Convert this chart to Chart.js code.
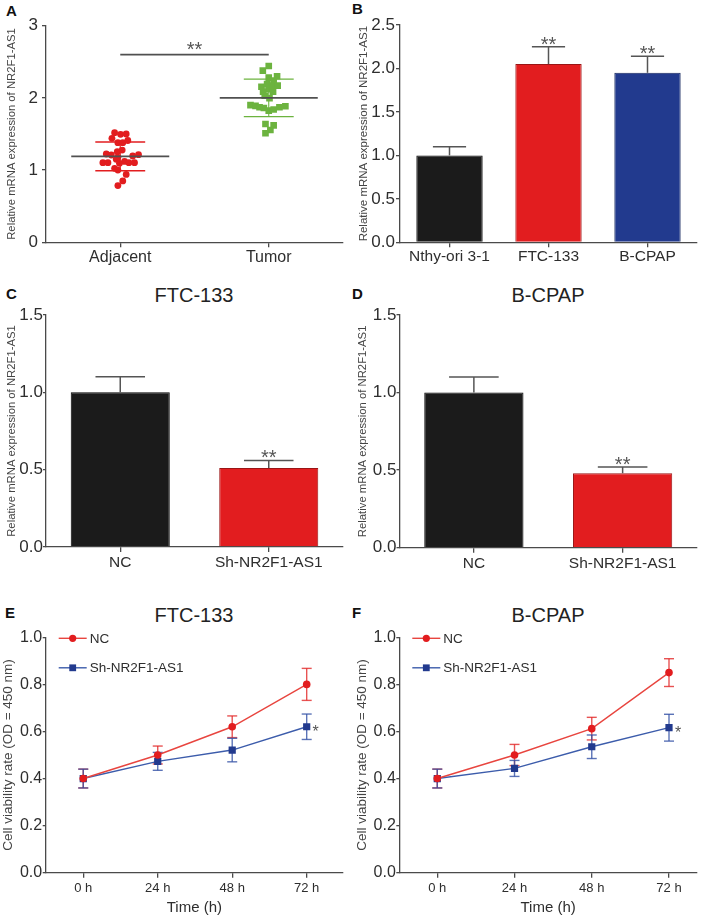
<!DOCTYPE html>
<html>
<head>
<meta charset="utf-8">
<script src="https://cdn.jsdelivr.net/npm/chart.js@4.4.1/dist/chart.umd.min.js"></script>
<style>
html,body{margin:0;padding:0;background:#fff;}
body{width:709px;height:917px;position:relative;overflow:hidden;font-family:"Liberation Sans",Arial,Helvetica,sans-serif;}
.lbl{position:absolute;font-weight:bold;font-size:15px;line-height:15px;color:#111;}
.ttl{position:absolute;font-size:20px;line-height:20px;color:#222;text-align:center;width:200px;white-space:nowrap;}
</style>
</head>
<body>
<div class="lbl" style="left:6px;top:3px;">A</div>
<div class="lbl" style="left:352px;top:1px;">B</div>
<div class="lbl" style="left:6px;top:286px;">C</div>
<div class="lbl" style="left:352px;top:286px;">D</div>
<div class="lbl" style="left:5px;top:605px;">E</div>
<div class="lbl" style="left:352px;top:605px;">F</div>
<div class="ttl" style="left:94px;top:285px;">FTC-133</div>
<div class="ttl" style="left:448px;top:285px;">B-CPAP</div>
<div class="ttl" style="left:94px;top:605px;">FTC-133</div>
<div class="ttl" style="left:448px;top:605px;">B-CPAP</div>
<script>
// ---------------- DATA ----------------
// Panel A (scatter, relative NR2F1-AS1 expression)
const scatterCategories = ['Adjacent', 'Tumor'];
const adjacentValues = [1.518,1.495,1.50,1.44,1.38,1.38,1.41,1.223,1.209,1.255,1.278,1.177,1.195,1.213,1.103,1.103,1.15,1.094,1.12,1.103,1.103,1.025,1.0,0.94,0.85,0.785];
const adjacentJitter = [-0.038,0.002,0.040,-0.056,-0.016,0.017,0.051,-0.094,-0.060,-0.020,0.013,-0.016,0.084,0.123,-0.117,-0.083,-0.027,-0.005,0.029,0.058,0.096,-0.038,-0.016,0.040,0.017,-0.016];
const tumorValues = [2.442,2.377,2.28,2.30,2.24,2.155,2.19,2.17,2.17,2.12,2.086,2.086,2.03,1.995,1.90,1.89,1.87,1.86,1.823,1.84,1.87,1.885,1.638,1.62,1.555,1.51];
const tumorJitter = [0,-0.040,0,0.056,0.033,-0.049,-0.011,0.022,0.060,0,-0.038,0.029,-0.027,0.005,-0.123,-0.089,-0.062,-0.033,0,0.033,0.072,0.112,-0.022,0.033,0.011,-0.022];
const scatterMeans = [1.19, 2.0];
const scatterSDs = [0.2, 0.26];
const scatterSigLevel = 2.6;
const panelATicks = [0, 1, 2, 3];

// Panel B
const cellLines = ['Nthy-ori 3-1', 'FTC-133', 'B-CPAP'];
const cellLineValues = [1.0, 2.05, 1.95];
const cellLineErrors = [0.10, 0.20, 0.19];
const cellLineSig = ['', '**', '**'];
const panelBTicks = [0, 0.5, 1.0, 1.5, 2.0, 2.5];

// Panels C & D
const knockdownGroups = ['NC', 'Sh-NR2F1-AS1'];
const ftcKnockValues = [1.0, 0.51];
const ftcKnockErrors = [0.10, 0.05];
const bcpapKnockValues = [1.0, 0.48];
const bcpapKnockErrors = [0.10, 0.04];
const knockSig = ['', '**'];
const panelCDTicks = [0, 0.5, 1.0, 1.5];

// Panels E & F (CCK-8 viability)
const timePoints = [0, 24, 48, 72];
const timeLabels = ['0 h', '24 h', '48 h', '72 h'];
const seriesNames = ['NC', 'Sh-NR2F1-AS1'];
const ftcNC = [0.40, 0.50, 0.62, 0.80];
const ftcNCErr = [0.04, 0.038, 0.046, 0.068];
const ftcSh = [0.40, 0.473, 0.521, 0.62];
const ftcShErr = [0.04, 0.038, 0.05, 0.054];
const bcpapNC = [0.40, 0.50, 0.612, 0.85];
const bcpapNCErr = [0.04, 0.045, 0.048, 0.059];
const bcpapSh = [0.40, 0.443, 0.535, 0.616];
const bcpapShErr = [0.04, 0.034, 0.05, 0.057];
const viabilityTicks = [0, 0.2, 0.4, 0.6, 0.8, 1.0];

// ---------------- STYLE / LAYOUT ----------------
const FONT = '"Liberation Sans", Arial, Helvetica, sans-serif';
const AXIS = '#4a4a4a';
const TXT = '#2e2e2e';
const RED = '#e21d1f';
const GREEN = '#6cb33f';
const BLACK = '#1b1b1b';
const BLUE = '#223a8e';
const LRED = '#e8453f';
const LBLUE = '#3c5cab';

const P = {
  A: {box: [0, 0, 354, 285], area: [46, 25.7, 343, 242.3]},
  B: {box: [354, 0, 355, 285], area: [400, 25, 697, 242.3]},
  C: {box: [0, 285, 354, 315], area: [46, 315, 343, 547]},
  D: {box: [354, 285, 355, 315], area: [399.5, 315, 697, 547.7]},
  E: {box: [0, 600, 354, 317], area: [45.7, 637.3, 343, 872.7]},
  F: {box: [354, 600, 355, 317], area: [399.3, 637.3, 697, 872.7]}
};

function makeCanvas(box) {
  const c = document.createElement('canvas');
  c.width = box[2]; c.height = box[3];
  c.style.cssText = 'position:absolute;left:' + box[0] + 'px;top:' + box[1] + 'px;width:' + box[2] + 'px;height:' + box[3] + 'px;';
  document.body.appendChild(c);
  return c;
}

function baseOptions(p) {
  const [bl, bt, bw, bh] = p.box;
  const [L, T, R, B] = p.area;
  return {
    responsive: false, animation: false, events: [],
    layout: {padding: {left: 0, top: T - bt, right: bl + bw - R, bottom: 0}},
    plugins: {legend: {display: false}, tooltip: {enabled: false}, title: {display: false}}
  };
}

function yAxis(p, o) {
  const [bl] = p.box; const [L] = p.area;
  return {
    type: 'linear', min: o.min, max: o.max,
    afterFit: s => { s.width = L - bl; },
    afterBuildTicks: s => { s.ticks = o.ticks.map(v => ({value: v})); },
    ticks: {font: {family: FONT, size: o.tickSize}, color: TXT, padding: o.tickPad,
            callback: v => o.decimals ? Number(v).toFixed(o.decimals) : String(v)},
    grid: {display: true, drawOnChartArea: false, drawTicks: true, tickLength: o.tickLen, color: AXIS, lineWidth: 1.3},
    border: {display: true, color: AXIS, width: 1.3},
    title: {display: true, text: o.title, font: {family: FONT, size: o.titleSize}, color: '#444',
            padding: {top: o.titlePad, bottom: 0}}
  };
}

function xCategory(p, o) {
  const [bl, bt, bw, bh] = p.box; const B = p.area[3];
  return {
    type: 'category', offset: true,
    afterFit: s => { s.height = bt + bh - B; },
    ticks: {font: {family: FONT, size: o.tickSize}, color: TXT, padding: o.tickPad, autoSkip: false, maxRotation: 0},
    grid: {display: true, drawOnChartArea: false, drawTicks: true, tickLength: 5, offset: false, color: AXIS, lineWidth: 1.3},
    border: {display: true, color: AXIS, width: 1.3}
  };
}

function strokeLine(ctx, x0, y0, x1, y1, color, w) {
  ctx.save(); ctx.strokeStyle = color; ctx.lineWidth = w;
  ctx.beginPath(); ctx.moveTo(x0, y0); ctx.lineTo(x1, y1); ctx.stroke(); ctx.restore();
}

function drawCenteredText(ctx, text, cx, cy, font, color, align) {
  ctx.save(); ctx.font = font; ctx.fillStyle = color; ctx.textAlign = align || 'center'; ctx.textBaseline = 'alphabetic';
  const m = ctx.measureText(text);
  const base = cy + (m.actualBoundingBoxAscent - m.actualBoundingBoxDescent) / 2;
  ctx.fillText(text, cx, base); ctx.restore();
}

// bar error bars (upward only) + significance stars
function barExtras(values, errors, sig) {
  return {
    id: 'barExtras',
    afterDatasetsDraw(chart) {
      const ctx = chart.ctx, ys = chart.scales.y;
      const meta = chart.getDatasetMeta(0);
      meta.data.forEach((el, i) => {
        const x = el.x, half = el.width / 4;
        const yTop = ys.getPixelForValue(values[i] + errors[i]);
        const yBar = ys.getPixelForValue(values[i]);
        strokeLine(ctx, x, yBar, x, yTop, '#555', 1.5);
        strokeLine(ctx, x - half, yTop, x + half, yTop, '#555', 1.5);
        if (sig[i]) drawCenteredText(ctx, sig[i], x, yTop - 6, '20px ' + FONT, '#555');
      });
    }
  };
}

// ---------------- PANEL A ----------------
(function () {
  const p = P.A;
  const opts = baseOptions(p);
  const [bl, bt, bw, bh] = p.box;
  opts.scales = {
    x: {
      type: 'linear', min: 0.5, max: 2.5,
      afterFit: s => { s.height = bt + bh - p.area[3]; },
      afterBuildTicks: s => { s.ticks = scatterCategories.map((c, i) => ({value: i + 1})); },
      ticks: {font: {family: FONT, size: 16}, color: TXT, padding: 0.5, autoSkip: false, maxRotation: 0,
              callback: v => scatterCategories[Math.round(v) - 1]},
      grid: {display: true, drawOnChartArea: false, drawTicks: true, tickLength: 5, color: AXIS, lineWidth: 1.3},
      border: {display: true, color: AXIS, width: 1.3}
    },
    y: yAxis(p, {min: 0, max: 3, ticks: panelATicks, tickSize: 17, tickPad: 4, tickLen: 4, decimals: 0,
                 title: 'Relative mRNA expression of NR2F1-AS1', titleSize: 11.3, titlePad: 5})
  };
  new Chart(makeCanvas(p.box), {
    type: 'scatter',
    data: {datasets: [
      {label: scatterCategories[0], data: adjacentValues.map((v, i) => ({x: 1 + adjacentJitter[i], y: v})),
       pointStyle: 'circle', pointRadius: 3.4, backgroundColor: RED, borderWidth: 0},
      {label: scatterCategories[1], data: tumorValues.map((v, i) => ({x: 2 + tumorJitter[i], y: v})),
       pointStyle: 'rect', pointRadius: 4.7, backgroundColor: GREEN, borderWidth: 0}
    ]},
    options: opts,
    plugins: [{
      id: 'meanSd',
      afterDatasetsDraw(chart) {
        const ctx = chart.ctx, xs = chart.scales.x, ys = chart.scales.y;
        const cols = [RED, GREEN];
        scatterMeans.forEach((m, i) => {
          const c = i + 1, sd = scatterSDs[i];
          const xc = xs.getPixelForValue(c);
          strokeLine(ctx, xc, ys.getPixelForValue(m + sd), xc, ys.getPixelForValue(m - sd), cols[i], 1.1);
          [m + sd, m - sd].forEach(v => strokeLine(ctx, xs.getPixelForValue(c - 0.168), ys.getPixelForValue(v),
                                                  xs.getPixelForValue(c + 0.168), ys.getPixelForValue(v), cols[i], 1.4));
          strokeLine(ctx, xs.getPixelForValue(c - 0.33), ys.getPixelForValue(m), xs.getPixelForValue(c + 0.33), ys.getPixelForValue(m), '#505050', 1.6);
        });
        const ySig = ys.getPixelForValue(scatterSigLevel);
        strokeLine(ctx, xs.getPixelForValue(1), ySig, xs.getPixelForValue(2), ySig, '#505050', 1.6);
        drawCenteredText(ctx, '**', xs.getPixelForValue(1.5), ySig - 9, '20px ' + FONT, '#555');
      }
    }]
  });
})();

// ---------------- PANEL B ----------------
(function () {
  const p = P.B;
  const opts = baseOptions(p);
  opts.scales = {
    x: xCategory(p, {tickSize: 15.5, tickPad: 0.5}),
    y: yAxis(p, {min: 0, max: 2.5, ticks: panelBTicks, tickSize: 17, tickPad: 1, tickLen: 4, decimals: 1,
                 title: 'Relative mRNA expression of NR2F1-AS1', titleSize: 11.5, titlePad: 3.2})
  };
  new Chart(makeCanvas(p.box), {
    type: 'bar',
    data: {labels: cellLines, datasets: [{data: cellLineValues, backgroundColor: [BLACK, RED, BLUE],
      borderColor: ['#000', '#9a1515', '#16275e'], borderWidth: 1, barPercentage: 1, categoryPercentage: 0.67}]},
    options: opts,
    plugins: [barExtras(cellLineValues, cellLineErrors, cellLineSig)]
  });
})();

// ---------------- PANELS C & D ----------------
function knockPanel(p, values, errors, yPad) {
  const opts = baseOptions(p);
  opts.scales = {
    x: xCategory(p, {tickSize: 15.5, tickPad: 1.7}),
    y: yAxis(p, {min: 0, max: 1.5, ticks: panelCDTicks, tickSize: 17, tickPad: 0, tickLen: 3, decimals: 1,
                 title: 'Relative mRNA expression of NR2F1-AS1', titleSize: 11.3, titlePad: yPad})
  };
  new Chart(makeCanvas(p.box), {
    type: 'bar',
    data: {labels: knockdownGroups, datasets: [{data: values, backgroundColor: [BLACK, RED],
      borderColor: ['#000', '#9a1515'], borderWidth: 1, barPercentage: 1, categoryPercentage: 0.667}]},
    options: opts,
    plugins: [barExtras(values, errors, knockSig)]
  });
}
knockPanel(P.C, ftcKnockValues, ftcKnockErrors, 4.9);
knockPanel(P.D, bcpapKnockValues, bcpapKnockErrors, 1.9);

// ---------------- PANELS E & F ----------------
function viabilityPanel(p, nc, ncErr, sh, shErr, xMin, xMax, yPad) {
  const opts = baseOptions(p);
  const [bl, bt, bw, bh] = p.box;
  opts.scales = {
    x: {
      type: 'linear', min: xMin, max: xMax,
      afterFit: s => { s.height = bt + bh - p.area[3]; },
      afterBuildTicks: s => { s.ticks = timePoints.map(v => ({value: v})); },
      ticks: {font: {family: FONT, size: 13}, color: TXT, padding: 2.8, autoSkip: false, maxRotation: 0,
              callback: v => timeLabels[timePoints.indexOf(v)]},
      grid: {display: true, drawOnChartArea: false, drawTicks: true, tickLength: 5, color: AXIS, lineWidth: 1.3},
      border: {display: true, color: AXIS, width: 1.3},
      title: {display: true, text: 'Time (h)', font: {family: FONT, size: 15}, color: TXT, padding: {top: 0, bottom: 0.5}}
    },
    y: yAxis(p, {min: 0, max: 1.0, ticks: viabilityTicks, tickSize: 16, tickPad: 0.5, tickLen: 3, decimals: 1,
                 title: 'Cell viability rate (OD = 450 nm)', titleSize: 13.5, titlePad: yPad})
  };
  const errs = [ncErr, shErr];
  const errCols = ['rgba(226,40,40,0.8)', 'rgba(50,80,165,0.8)'];
  new Chart(makeCanvas(p.box), {
    type: 'line',
    data: {datasets: [
      {label: seriesNames[0], data: timePoints.map((t, i) => ({x: t, y: nc[i]})), borderColor: LRED, borderWidth: 1.4,
       pointStyle: 'circle', pointRadius: 3.8, pointBackgroundColor: RED, pointBorderWidth: 0, tension: 0, fill: false},
      {label: seriesNames[1], data: timePoints.map((t, i) => ({x: t, y: sh[i]})), borderColor: LBLUE, borderWidth: 1.4,
       pointStyle: 'rect', pointRadius: 5.1, pointBackgroundColor: BLUE, pointBorderWidth: 0, tension: 0, fill: false}
    ]},
    options: opts,
    plugins: [{
      id: 'errAndLegend',
      beforeDatasetsDraw(chart) {
        const ctx = chart.ctx, ys = chart.scales.y;
        [0, 1].forEach(d => {
          const meta = chart.getDatasetMeta(d);
          const vals = d === 0 ? nc : sh;
          meta.data.forEach((el, i) => {
            const x = el.x;
            const y0 = ys.getPixelForValue(vals[i] + errs[d][i]);
            const y1 = ys.getPixelForValue(vals[i] - errs[d][i]);
            strokeLine(ctx, x, y0, x, y1, errCols[d], 1.4);
            strokeLine(ctx, x - 5, y0, x + 5, y0, errCols[d], 1.4);
            strokeLine(ctx, x - 5, y1, x + 5, y1, errCols[d], 1.4);
          });
        });
      },
      afterDatasetsDraw(chart) {
        const ctx = chart.ctx, a = chart.chartArea;
        // significance star next to the last knock-down point
        const meta = chart.getDatasetMeta(1);
        const last = meta.data[meta.data.length - 1];
        drawCenteredText(ctx, '*', last.x + 9, last.y + 1, '16px ' + FONT, '#555');
        // legend
        const rows = [a.top + 1, a.top + 30.5];
        const lineCols = [LRED, LBLUE], markCols = [RED, BLUE];
        rows.forEach((yy, d) => {
          strokeLine(ctx, a.left + 13, yy, a.left + 41, yy, lineCols[d], 1.4);
          ctx.save(); ctx.fillStyle = markCols[d];
          if (d === 0) { ctx.beginPath(); ctx.arc(a.left + 27, yy, 3.6, 0, Math.PI * 2); ctx.fill(); }
          else { ctx.fillRect(a.left + 27 - 3.4, yy - 3.4, 6.8, 6.8); }
          ctx.restore();
          ctx.save(); ctx.font = '13.5px ' + FONT; ctx.fillStyle = TXT; ctx.textAlign = 'left'; ctx.textBaseline = 'middle';
          ctx.fillText(seriesNames[d], a.left + 44, yy + 0.5); ctx.restore();
        });
      }
    }]
  });
}
viabilityPanel(P.E, ftcNC, ftcNCErr, ftcSh, ftcShErr, -12.1, 83.7, 0.2);
viabilityPanel(P.F, bcpapNC, bcpapNCErr, bcpapSh, bcpapShErr, -11.8, 80.7, 0);
</script>
</body>
</html>
